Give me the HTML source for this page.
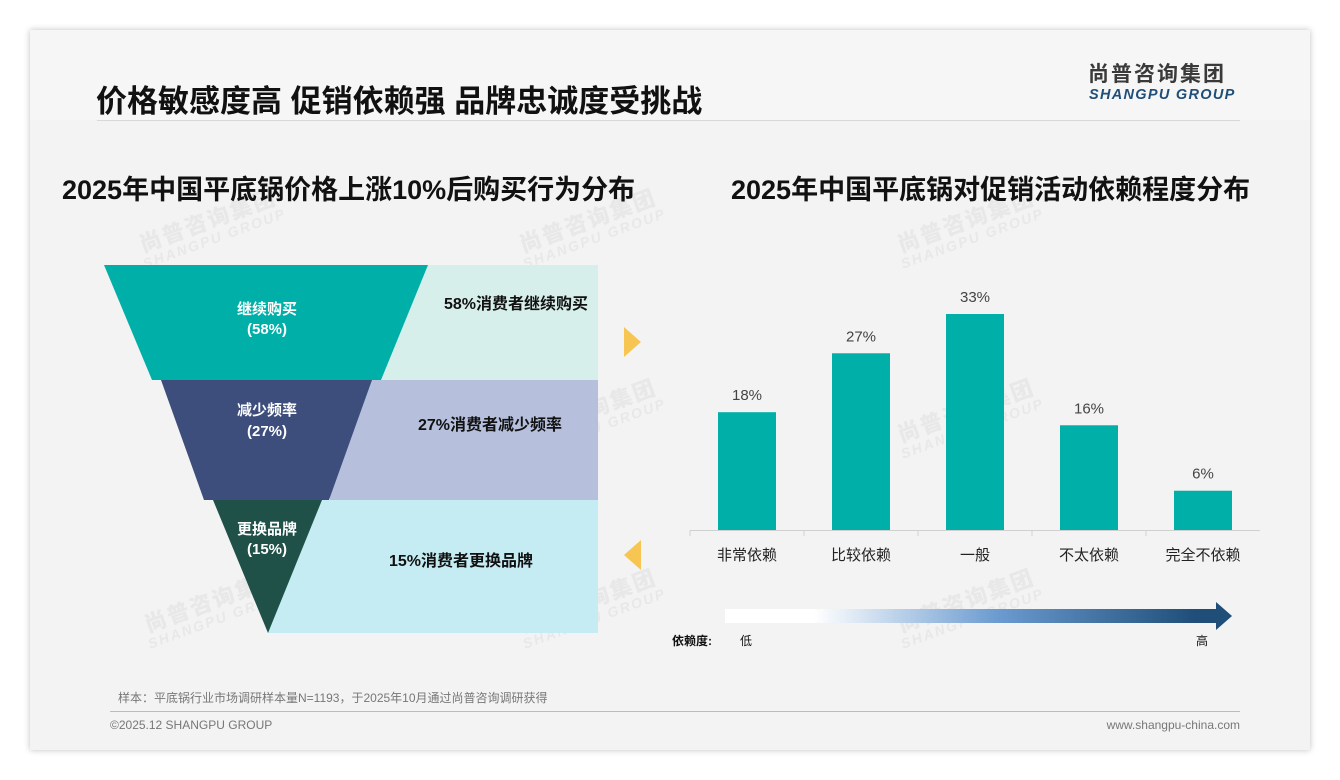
<!DOCTYPE html>
<html><head><meta charset="utf-8"><style>
body{margin:0;width:1340px;height:780px;background:#fff;font-family:"Liberation Sans","Noto Sans CJK SC",sans-serif;position:relative;overflow:hidden}
.abs{position:absolute}
.wm{position:absolute;color:#e8e8e8;transform:rotate(-20deg);font-weight:bold;line-height:1;text-align:center}
.wm b{display:block;font-size:22px;letter-spacing:2px}
.wm i{display:block;font-size:14px;letter-spacing:2px}
</style></head><body>
<div class="abs" style="left:30px;top:30px;width:1280px;height:720px;background:#f3f3f3;box-shadow:0 0 6px rgba(0,0,0,.25)"></div>
<div class="abs" style="left:30px;top:30px;width:1280px;height:90px;background:#f6f6f6"></div>
<div class="wm" style="left:135px;top:210px"><b>尚普咨询集团</b><i>SHANGPU GROUP</i></div>
<div class="wm" style="left:515px;top:210px"><b>尚普咨询集团</b><i>SHANGPU GROUP</i></div>
<div class="wm" style="left:893px;top:210px"><b>尚普咨询集团</b><i>SHANGPU GROUP</i></div>
<div class="wm" style="left:515px;top:400px"><b>尚普咨询集团</b><i>SHANGPU GROUP</i></div>
<div class="wm" style="left:893px;top:400px"><b>尚普咨询集团</b><i>SHANGPU GROUP</i></div>
<div class="wm" style="left:140px;top:590px"><b>尚普咨询集团</b><i>SHANGPU GROUP</i></div>
<div class="wm" style="left:515px;top:590px"><b>尚普咨询集团</b><i>SHANGPU GROUP</i></div>
<div class="wm" style="left:893px;top:590px"><b>尚普咨询集团</b><i>SHANGPU GROUP</i></div>

<div class="abs" style="left:96px;top:76px;font-size:31px;font-weight:bold;color:#111">价格敏感度高 促销依赖强 品牌忠诚度受挑战</div>
<div class="abs" style="left:97px;top:120px;width:1143px;height:1px;background:#d8d8d8"></div>
<div class="abs" style="left:1088px;top:64px;font-size:21px;line-height:1;font-weight:bold;color:#3a3a3a;letter-spacing:2px">尚普咨询集团</div>
<div class="abs" style="left:1089px;top:88px;font-size:14.5px;line-height:1;font-weight:bold;font-style:italic;color:#1f4e79;letter-spacing:1.3px">SHANGPU GROUP</div>

<div class="abs" style="left:62px;top:168px;font-size:27px;font-weight:bold;color:#111">2025年中国平底锅价格上涨10%后购买行为分布</div>
<div class="abs" style="left:731px;top:168px;font-size:27px;font-weight:bold;color:#111">2025年中国平底锅对促销活动依赖程度分布</div>

<svg class="abs" style="left:0;top:0" width="1340" height="780">
<g font-family="Liberation Sans, Noto Sans CJK SC, sans-serif" font-weight="bold">
<rect x="380" y="265" width="218" height="115" fill="#d7efea"/>
<rect x="330" y="380" width="268" height="120" fill="#b6c0dd"/>
<rect x="268" y="500" width="330" height="133" fill="#c5ecf3"/>
<polygon points="104,265 428,265 381,380 152,380" fill="#00b0a8"/>
<polygon points="161,380 372,380 329,500 204,500" fill="#3d4e7c"/>
<polygon points="213,500 322,500 268,633" fill="#1f5148"/>
<g fill="#fff" font-size="15" text-anchor="middle">
<text x="267" y="314">继续购买</text>
<text x="267" y="334">(58%)</text>
<text x="267" y="415">减少频率</text>
<text x="267" y="436">(27%)</text>
<text x="267" y="534">更换品牌</text>
<text x="267" y="554">(15%)</text>
</g>
<g fill="#111" font-size="16" text-anchor="middle">
<text x="516" y="309">58%消费者继续购买</text>
<text x="490" y="430">27%消费者减少频率</text>
<text x="461" y="566">15%消费者更换品牌</text>
</g>
</g>
<polygon points="624,327 641,342 624,357" fill="#f7c652"/>
<polygon points="641,540 624,555 641,570" fill="#f7c652"/>
<g id="bars"></g>
<defs><linearGradient id="gr" x1="0" x2="1"><stop offset="0" stop-color="#fff"/><stop offset="0.18" stop-color="#fff"/><stop offset="0.55" stop-color="#6b9bd0"/><stop offset="0.95" stop-color="#1f4e79"/></linearGradient></defs>
<g>
<rect x="725" y="609" width="495" height="14" fill="url(#gr)"/>
<polygon points="1216,602 1232,616 1216,630" fill="#1f4e79"/>
</g>
<g font-family="Liberation Sans, Noto Sans CJK SC, sans-serif" font-size="12" fill="#111">
<text x="672" y="645" font-weight="bold">依赖度:</text>
<text x="740" y="645">低</text>
<text x="1196" y="645">高</text>
</g>
</svg>

<div class="abs" style="left:118px;top:689px;font-size:12px;color:#777">样本：平底锅行业市场调研样本量N=1193，于2025年10月通过尚普咨询调研获得</div>
<div class="abs" style="left:110px;top:711px;width:1130px;height:1px;background:#a9c0d8"></div>
<div class="abs" style="left:110px;top:718px;font-size:12px;color:#777">©2025.12 SHANGPU GROUP</div>
<div class="abs" style="left:1040px;top:718px;width:200px;text-align:right;font-size:12px;color:#777">www.shangpu-china.com</div>

<script>
const categories=["非常依赖","比较依赖","一般","不太依赖","完全不依赖"];
const values=[18,27,33,16,6];
const valueLabels=["18%","27%","33%","16%","6%"];
const NS="http://www.w3.org/2000/svg";
const g=document.getElementById('bars');
const x0=690,x1=1260,base=530,scale=216/33;
const step=(x1-x0)/categories.length;
const xc=i=>x0+step*(i+0.5);
const y=v=>base-v*scale;
const ax=document.createElementNS(NS,'line');


ax.setAttribute('x1',x0);ax.setAttribute('x2',x1);ax.setAttribute('y1',base+0.5);ax.setAttribute('y2',base+0.5);ax.setAttribute('stroke','#d0d0d0');
g.appendChild(ax);
categories.forEach((c,i)=>{
  const r=document.createElementNS(NS,'rect');
  
  
  r.setAttribute('x',xc(i)-29);r.setAttribute('y',y(values[i]));r.setAttribute('width',58);r.setAttribute('height',base-y(values[i]));r.setAttribute('fill','#00b0a8');
  g.appendChild(r);
  const t=document.createElementNS(NS,'text');
  
  
  t.setAttribute('x',xc(i));t.setAttribute('y',y(values[i])-12);t.setAttribute('text-anchor','middle');t.setAttribute('font-size','15');t.setAttribute('fill','#444');
  t.textContent=valueLabels[i];g.appendChild(t);
  const tk=document.createElementNS(NS,'line');
  
  
  tk.setAttribute('x1',x0+step*i);tk.setAttribute('x2',x0+step*i);tk.setAttribute('y1',base);tk.setAttribute('y2',base+6);tk.setAttribute('stroke','#d0d0d0');
  g.appendChild(tk);
  const l=document.createElementNS(NS,'text');
  
  
  l.setAttribute('x',xc(i));l.setAttribute('y',base+30);l.setAttribute('text-anchor','middle');l.setAttribute('font-size','15');l.setAttribute('fill','#222');
  l.setAttribute('font-family','Liberation Sans, Noto Sans CJK SC, sans-serif');
  l.textContent=c;g.appendChild(l);
});
</script>
</body></html>
